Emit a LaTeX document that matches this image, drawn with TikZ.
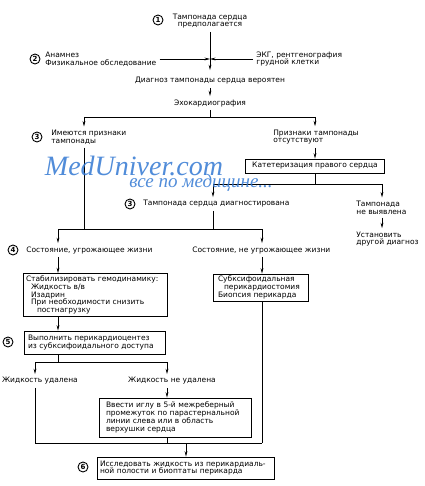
\documentclass[tikz,border=0pt]{standalone}
\usepackage{fontspec}
\setmainfont{DejaVu Sans}
\newfontfamily\filigrane{Liberation Serif}
\usetikzlibrary{arrows.meta,positioning}
\definecolor{bleufil}{RGB}{50,120,210}

\begin{document}
\begin{tikzpicture}[
      x=1pt,
      y=-1pt,
      line width=0.7pt,
      font=\fontsize{7.5}{7.8}\selectfont,
      fleche/.style={
        -{Stealth[length=5.5pt,width=2.8pt]}
      },
      texte/.style={
        inner sep=3pt,
        align=left
      },
      boite/.style={
        draw,
        inner xsep=4pt,
        inner ysep=2pt,
        align=left
      },
      numero/.style={
        draw,
        circle,
        line width=0.9pt,
        inner sep=0pt,
        minimum size=10pt,
        font=\fontsize{7}{7}\selectfont\bfseries
      },
      filigrane/.style={
        text=bleufil,
        opacity=0.85,
        inner sep=0pt
      }
    ]
    \useasboundingbox (0,0) rectangle (424,486) ;

    \node[numero] (n1) at (158,20) {1} ;
    \node[texte, align=center] (t1) at (210,21) {Тампонада сердца\\предполагается} ;
    \node[numero] (n2) at (35,59) {2} ;
    \node[texte, anchor=west] (a2) at (42,59) {Анамнез\\Физикальное обследование} ;
    \node[texte, anchor=west] (e2) at (253,59) {ЭКГ, рентгенография\\грудной клетки} ;
    \node[coordinate] (j1) at (210,59) {} ;
    \node[texte] (d1) at (210,81) {Диагноз тампонады сердца вероятен} ;
    \node[texte] (echo) at (210,103) {Эхокардиография} ;
    \node[coordinate] (j2) at (210,117) {} ;
    \node[coordinate] (j2g) at (84,117) {} ;
    \node[coordinate] (j2d) at (315,117) {} ;

    \node[numero] (n3a) at (37,137) {3} ;
    \node[texte, anchor=west] (p1) at (48,137) {Имеются признаки\\тампонады} ;
    \node[texte, anchor=west] (p0) at (270,137) {Признаки тампонады\\отсутствуют} ;
    \node[boite, align=center, minimum width=139pt, minimum height=14pt] (kat) at (315,166) {Катетеризация правого сердца} ;
    \node[coordinate] (j3) at (315,184) {} ;
    \node[coordinate] (j3g) at (213,184) {} ;
    \node[coordinate] (j3d) at (382,184) {} ;

    \node[numero] (n3b) at (130,204) {3} ;
    \node[texte, anchor=west] (diag) at (140,204) {Тампонада сердца диагностирована} ;
    \node[texte, anchor=west] (tn) at (353,207.5) {Тампонада\\не выявлена} ;
    \node[texte, anchor=west] (ud) at (353,239) {Установить\\другой диагноз} ;
    \node[coordinate] (j4) at (213,229) {} ;
    \node[coordinate] (j4g) at (58,229) {} ;
    \node[coordinate] (j4d) at (262,229) {} ;

    \node[numero] (n4) at (13,250) {4} ;
    \node[texte, anchor=west] (s1) at (23,250) {Состояние, угрожающее жизни} ;
    \node[texte, anchor=west] (s2) at (189,250) {Состояние, не угрожающее жизни} ;
    \node[boite, inner xsep=3pt, minimum width=144pt, minimum height=43pt, text width=138pt] (stab) at (95,295)
      {Стабилизировать гемодинамику:\\
       \hspace*{5pt}Жидкость в/в\\
       \hspace*{5pt}Изадрин\\
       \hspace*{5pt}При необходимости снизить\\
       \hspace*{11pt}постнагрузку} ;
    \node[boite, inner xsep=5pt, minimum width=95pt, minimum height=27pt, text width=85pt] (sub) at (260.5,287.5)
      {Субксифоидальная\\
       \hspace*{6pt}перикардиостомия\\
       Биопсия перикарда} ;

    \node[numero] (n5) at (8,342) {5} ;
    \node[boite, minimum width=141pt, minimum height=23pt, text width=133pt] (perf) at (94.5,342.5)
      {Выполнить перикардиоцентез\\из субксифоидального доступа} ;
    \node[coordinate] (j5) at (58,362) {} ;
    \node[coordinate] (j5g) at (35,362) {} ;
    \node[coordinate] (j5d) at (167,362) {} ;
    \node[texte] (r1) at (40,381) {Жидкость удалена} ;
    \node[texte] (r2) at (172,381) {Жидкость не удалена} ;
    \node[boite, inner xsep=7pt, minimum width=152pt, minimum height=39pt, text width=138pt] (vv) at (175,417.5)
      {Ввести иглу в 5-й межреберный\\промежуток по парастернальной\\линии слева или в область\\верхушки сердца} ;
    \node[coordinate] (j6) at (186,443) {} ;
    \node[coordinate] (j6g) at (35,443) {} ;
    \node[coordinate] (j6d) at (262,443) {} ;

    \node[numero] (n6) at (83,467) {6} ;
    \node[boite, inner xsep=3pt, minimum width=177pt, minimum height=22pt, text width=171pt] (isl) at (185.5,468)
      {Исследовать жидкость из перикардиаль-\\ной полости и биоптаты перикарда} ;

    \draw[fleche, shorten >=4pt] (t1) -- (d1) ;
    \draw[fleche] (a2.east) -- (j1) ;
    \draw[fleche] (e2.west) -- (j1) ;
    \draw[fleche] (d1) -- (echo) ;
    \draw (echo) -- (j2) ;
    \draw (j2g) -- (j2d) ;
    \draw[fleche] (j2g) -- (j2g |- p1.north) ;
    \draw[fleche] (j2d) -- (j2d |- p0.north) ;
    \draw (j2g |- p1.south) -- (j2g |- j4) ;
    \draw[fleche] (j2d |- p0.south) -- (kat) ;
    \draw (kat) -- (j3) ;
    \draw (j3g) -- (j3d) ;
    \draw[fleche] (j3g) -- (j3g |- diag.north) ;
    \draw[fleche] (j3d) -- (j3d |- tn.north) ;
    \draw[fleche] (j3d |- tn.south) -- (j3d |- ud.north) ;
    \draw (j4 |- diag.south) -- (j4) ;
    \draw (j4g) -- (j4d) ;
    \draw[fleche] (j4g) -- (j4g |- s1.north) ;
    \draw[fleche] (j4d) -- (j4d |- s2.north) ;
    \draw[fleche] (j4g |- s1.south) -- (j4g |- stab.north) ;
    \draw[fleche] (j4d |- s2.south) -- (j4d |- sub.north) ;
    \draw[fleche] (j4g |- stab.south) -- (j4g |- perf.north) ;
    \draw (j4g |- perf.south) -- (j5) ;
    \draw (j5g) -- (j5d) ;
    \draw[fleche] (j5g) -- (j5g |- r1.north) ;
    \draw[fleche] (j5d) -- (j5d |- r2.north) ;
    \draw[fleche] (j5d |- r2.south) -- (j5d |- vv.north) ;
    \draw (j5g |- r1.south) -- (j6g) ;
    \draw (j5d |- vv.south) -- (j5d |- j6) ;
    \draw (j4d |- sub.south) -- (j6d) ;
    \draw (j6g) -- (j6d) ;
    \draw[fleche] (j6) -- (j6 |- isl.north) ;

    \node[filigrane, font=\filigrane\itshape\fontsize{28}{28}\selectfont] (wm1) at (134,166) {MedUniver.com} ;
    \node[filigrane, font=\filigrane\itshape\fontsize{19}{19}\selectfont] (wm2) at (201,183) {все по медицине...} ;

  \end{tikzpicture}
\end{document}
